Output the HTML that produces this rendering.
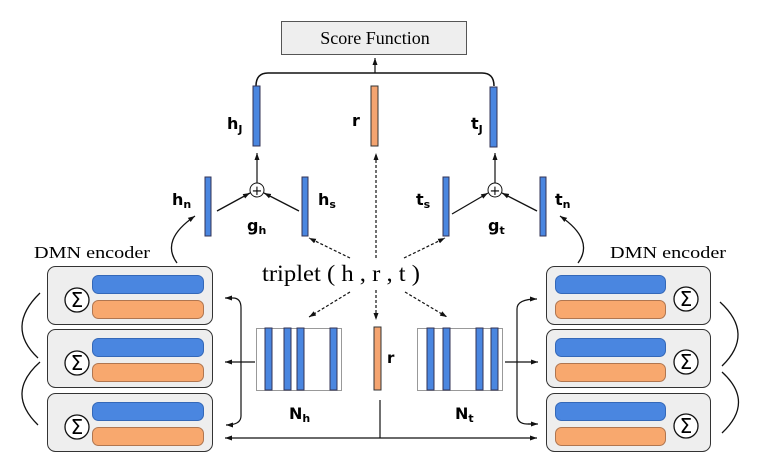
<!DOCTYPE html>
<html><head><meta charset="utf-8"><style>
html,body{margin:0;padding:0;background:#fff;}
svg{display:block;}
.s{font-family:"Liberation Serif",serif;}
.b{font-family:"DejaVu Sans","Liberation Sans",sans-serif;font-weight:bold;}
</style></head><body>
<svg width="761" height="473" viewBox="0 0 761 473" xmlns="http://www.w3.org/2000/svg">
<defs>
<marker id="a" markerWidth="8" markerHeight="8" refX="7" refY="4" orient="auto" markerUnits="userSpaceOnUse">
<path d="M0,1.5 L7,4 L0,6.5 Z" fill="#111"/></marker>
</defs>
<rect x="281.5" y="21.5" width="185" height="33" fill="#eee" stroke="#555"/>
<text x="375" y="44" text-anchor="middle" class="s" font-size="18">Score Function</text>
<path d="M256,86 Q256,73 268,73 L482,73 Q494,73 494,86" fill="none" stroke="#111" stroke-width="1.5"/>
<line x1="375" y1="73" x2="375" y2="58" stroke="#111" stroke-width="1.2" marker-end="url(#a)"/>
<rect x="253" y="86" width="7" height="60" fill="#4a86e0" stroke="#335"/>
<rect x="371" y="86" width="7" height="60" fill="#f4a470" stroke="#333"/>
<rect x="490" y="87" width="7" height="60" fill="#4a86e0" stroke="#335"/>
<text x="227" y="129" class="b" font-size="16">h<tspan font-size="11" dy="4">J</tspan></text>
<text x="352" y="126" class="b" font-size="16">r</text>
<text x="471" y="129" class="b" font-size="16">t<tspan font-size="11" dy="4">J</tspan></text>
<circle cx="257" cy="190" r="7" fill="#fff" stroke="#111"/>
<text x="257" y="195" text-anchor="middle" font-size="13" font-family="DejaVu Sans">+</text>
<circle cx="495" cy="190" r="7" fill="#fff" stroke="#111"/>
<text x="495" y="195" text-anchor="middle" font-size="13" font-family="DejaVu Sans">+</text>
<line x1="257" y1="183" x2="257" y2="153" stroke="#111" stroke-width="1.2" marker-end="url(#a)"/>
<line x1="495" y1="183" x2="495" y2="153" stroke="#111" stroke-width="1.2" marker-end="url(#a)"/>
<rect x="205" y="177" width="6" height="59" fill="#4a86e0" stroke="#335"/>
<rect x="302" y="177" width="6" height="59" fill="#4a86e0" stroke="#335"/>
<rect x="443" y="177" width="6" height="59" fill="#4a86e0" stroke="#335"/>
<rect x="540" y="177" width="6" height="59" fill="#4a86e0" stroke="#335"/>
<line x1="217" y1="211" x2="250" y2="193" stroke="#111" stroke-width="1.3" marker-end="url(#a)"/>
<line x1="299" y1="211" x2="264" y2="193" stroke="#111" stroke-width="1.3" marker-end="url(#a)"/>
<line x1="452" y1="214" x2="488" y2="193" stroke="#111" stroke-width="1.3" marker-end="url(#a)"/>
<line x1="537" y1="211" x2="502" y2="193" stroke="#111" stroke-width="1.3" marker-end="url(#a)"/>
<text x="172" y="205" class="b" font-size="16">h<tspan font-size="11" dy="3">n</tspan></text>
<text x="247" y="231" class="b" font-size="16">g<tspan font-size="11" dy="3">h</tspan></text>
<text x="318" y="205" class="b" font-size="16">h<tspan font-size="11" dy="3">s</tspan></text>
<text x="416" y="205" class="b" font-size="16">t<tspan font-size="11" dy="3">s</tspan></text>
<text x="488" y="231" class="b" font-size="16">g<tspan font-size="11" dy="3">t</tspan></text>
<text x="555" y="205" class="b" font-size="16">t<tspan font-size="11" dy="3">n</tspan></text>
<path d="M177,263 Q160,240 195,216" fill="none" stroke="#111" stroke-width="1.3" marker-end="url(#a)"/>
<path d="M578,263 Q595,240 560,216" fill="none" stroke="#111" stroke-width="1.3" marker-end="url(#a)"/>
<text x="341" y="281" text-anchor="middle" class="s" font-size="23" textLength="158" lengthAdjust="spacingAndGlyphs">triplet ( h , r , t )</text>
<g stroke="#111" stroke-width="1.2" stroke-dasharray="3,2" fill="none">
<line x1="350" y1="258" x2="309" y2="238" marker-end="url(#a)"/>
<line x1="404" y1="258" x2="445" y2="238" marker-end="url(#a)"/>
<line x1="376" y1="258" x2="376" y2="153" marker-end="url(#a)"/>
<line x1="350" y1="292" x2="309" y2="317" marker-end="url(#a)"/>
<line x1="376" y1="290" x2="376" y2="320" marker-end="url(#a)"/>
<line x1="405" y1="292" x2="447" y2="317" marker-end="url(#a)"/>
</g>
<rect x="256.5" y="328.5" width="85" height="62" fill="#fff" stroke="#999"/>
<rect x="265" y="328" width="7" height="62" fill="#4a86e0" stroke="#335"/>
<rect x="284" y="328" width="7" height="62" fill="#4a86e0" stroke="#335"/>
<rect x="297" y="328" width="7" height="62" fill="#4a86e0" stroke="#335"/>
<rect x="330" y="328" width="7" height="62" fill="#4a86e0" stroke="#335"/>
<rect x="417.5" y="328.5" width="85" height="62" fill="#fff" stroke="#999"/>
<rect x="427" y="328" width="7" height="62" fill="#4a86e0" stroke="#335"/>
<rect x="443" y="328" width="7" height="62" fill="#4a86e0" stroke="#335"/>
<rect x="476" y="328" width="7" height="62" fill="#4a86e0" stroke="#335"/>
<rect x="491" y="328" width="7" height="62" fill="#4a86e0" stroke="#335"/>
<rect x="374" y="327" width="7" height="63" fill="#f4a470" stroke="#333"/>
<text x="387" y="363" class="b" font-size="15">r</text>
<text x="289" y="419" class="b" font-size="16">N<tspan font-size="11" dy="3">h</tspan></text>
<text x="455" y="419" class="b" font-size="16">N<tspan font-size="11" dy="3">t</tspan></text>
<line x1="255" y1="362" x2="225" y2="362" stroke="#111" stroke-width="1.2" marker-end="url(#a)"/>
<line x1="505" y1="362" x2="538" y2="362" stroke="#111" stroke-width="1.2" marker-end="url(#a)"/>
<path d="M226,298 L233,298 Q241,298 241,308 L241,416 Q241,425 226,425" fill="none" stroke="#111" stroke-width="1.2" marker-end="url(#a)"/>
<line x1="232" y1="298" x2="225" y2="298" stroke="#111" stroke-width="1.2" marker-end="url(#a)"/>
<path d="M537,424 L527,424 Q517,424 517,414 L517,309 Q517,299 537,299" fill="none" stroke="#111" stroke-width="1.2" marker-end="url(#a)"/>
<line x1="528" y1="424" x2="538" y2="424" stroke="#111" stroke-width="1.2" marker-end="url(#a)"/>
<line x1="380" y1="400" x2="380" y2="438" stroke="#111" stroke-width="1.2"/>
<line x1="380" y1="438" x2="225" y2="438" stroke="#111" stroke-width="1.2" marker-end="url(#a)"/>
<line x1="380" y1="438" x2="537" y2="438" stroke="#111" stroke-width="1.2" marker-end="url(#a)"/>
<text x="34" y="258" class="s" font-size="17" textLength="116" lengthAdjust="spacingAndGlyphs">DMN encoder</text>
<text x="610" y="258" class="s" font-size="17" textLength="116" lengthAdjust="spacingAndGlyphs">DMN encoder</text>
<g id="L">
<rect x="47.5" y="266.5" width="165" height="58" rx="8" fill="#eee" stroke="#333"/>
<circle cx="77" cy="300" r="12" fill="#fff" stroke="#111" stroke-width="1.3"/>
<text x="77" y="307" text-anchor="middle" font-size="20" font-family="DejaVu Sans">Σ</text>
<rect x="92.5" y="275.5" width="111" height="18" rx="6" fill="#4a86e0" stroke="#3468b8"/>
<rect x="92.5" y="300.5" width="111" height="18" rx="6" fill="#f8a86e" stroke="#b07650"/>
</g>
<use href="#L" y="63"/>
<use href="#L" y="127"/>
<g id="R">
<rect x="546.5" y="266.5" width="164" height="58" rx="8" fill="#eee" stroke="#333"/>
<circle cx="686" cy="299" r="12" fill="#fff" stroke="#111" stroke-width="1.3"/>
<text x="686" y="306" text-anchor="middle" font-size="20" font-family="DejaVu Sans">Σ</text>
<rect x="555.5" y="275.5" width="110" height="18" rx="6" fill="#4a86e0" stroke="#3468b8"/>
<rect x="555.5" y="300.5" width="110" height="18" rx="6" fill="#f8a86e" stroke="#b07650"/>
</g>
<use href="#R" y="63"/>
<use href="#R" y="127"/>
<g fill="none" stroke="#111" stroke-width="1.3">
<path d="M40,293 Q5,327 38,358"/>
<path d="M40,362 Q5,393 38,425"/>
<path d="M720,302 Q755,334 722,366"/>
<path d="M722,372 Q755,402 722,433"/>
</g>
</svg>
</body></html>
